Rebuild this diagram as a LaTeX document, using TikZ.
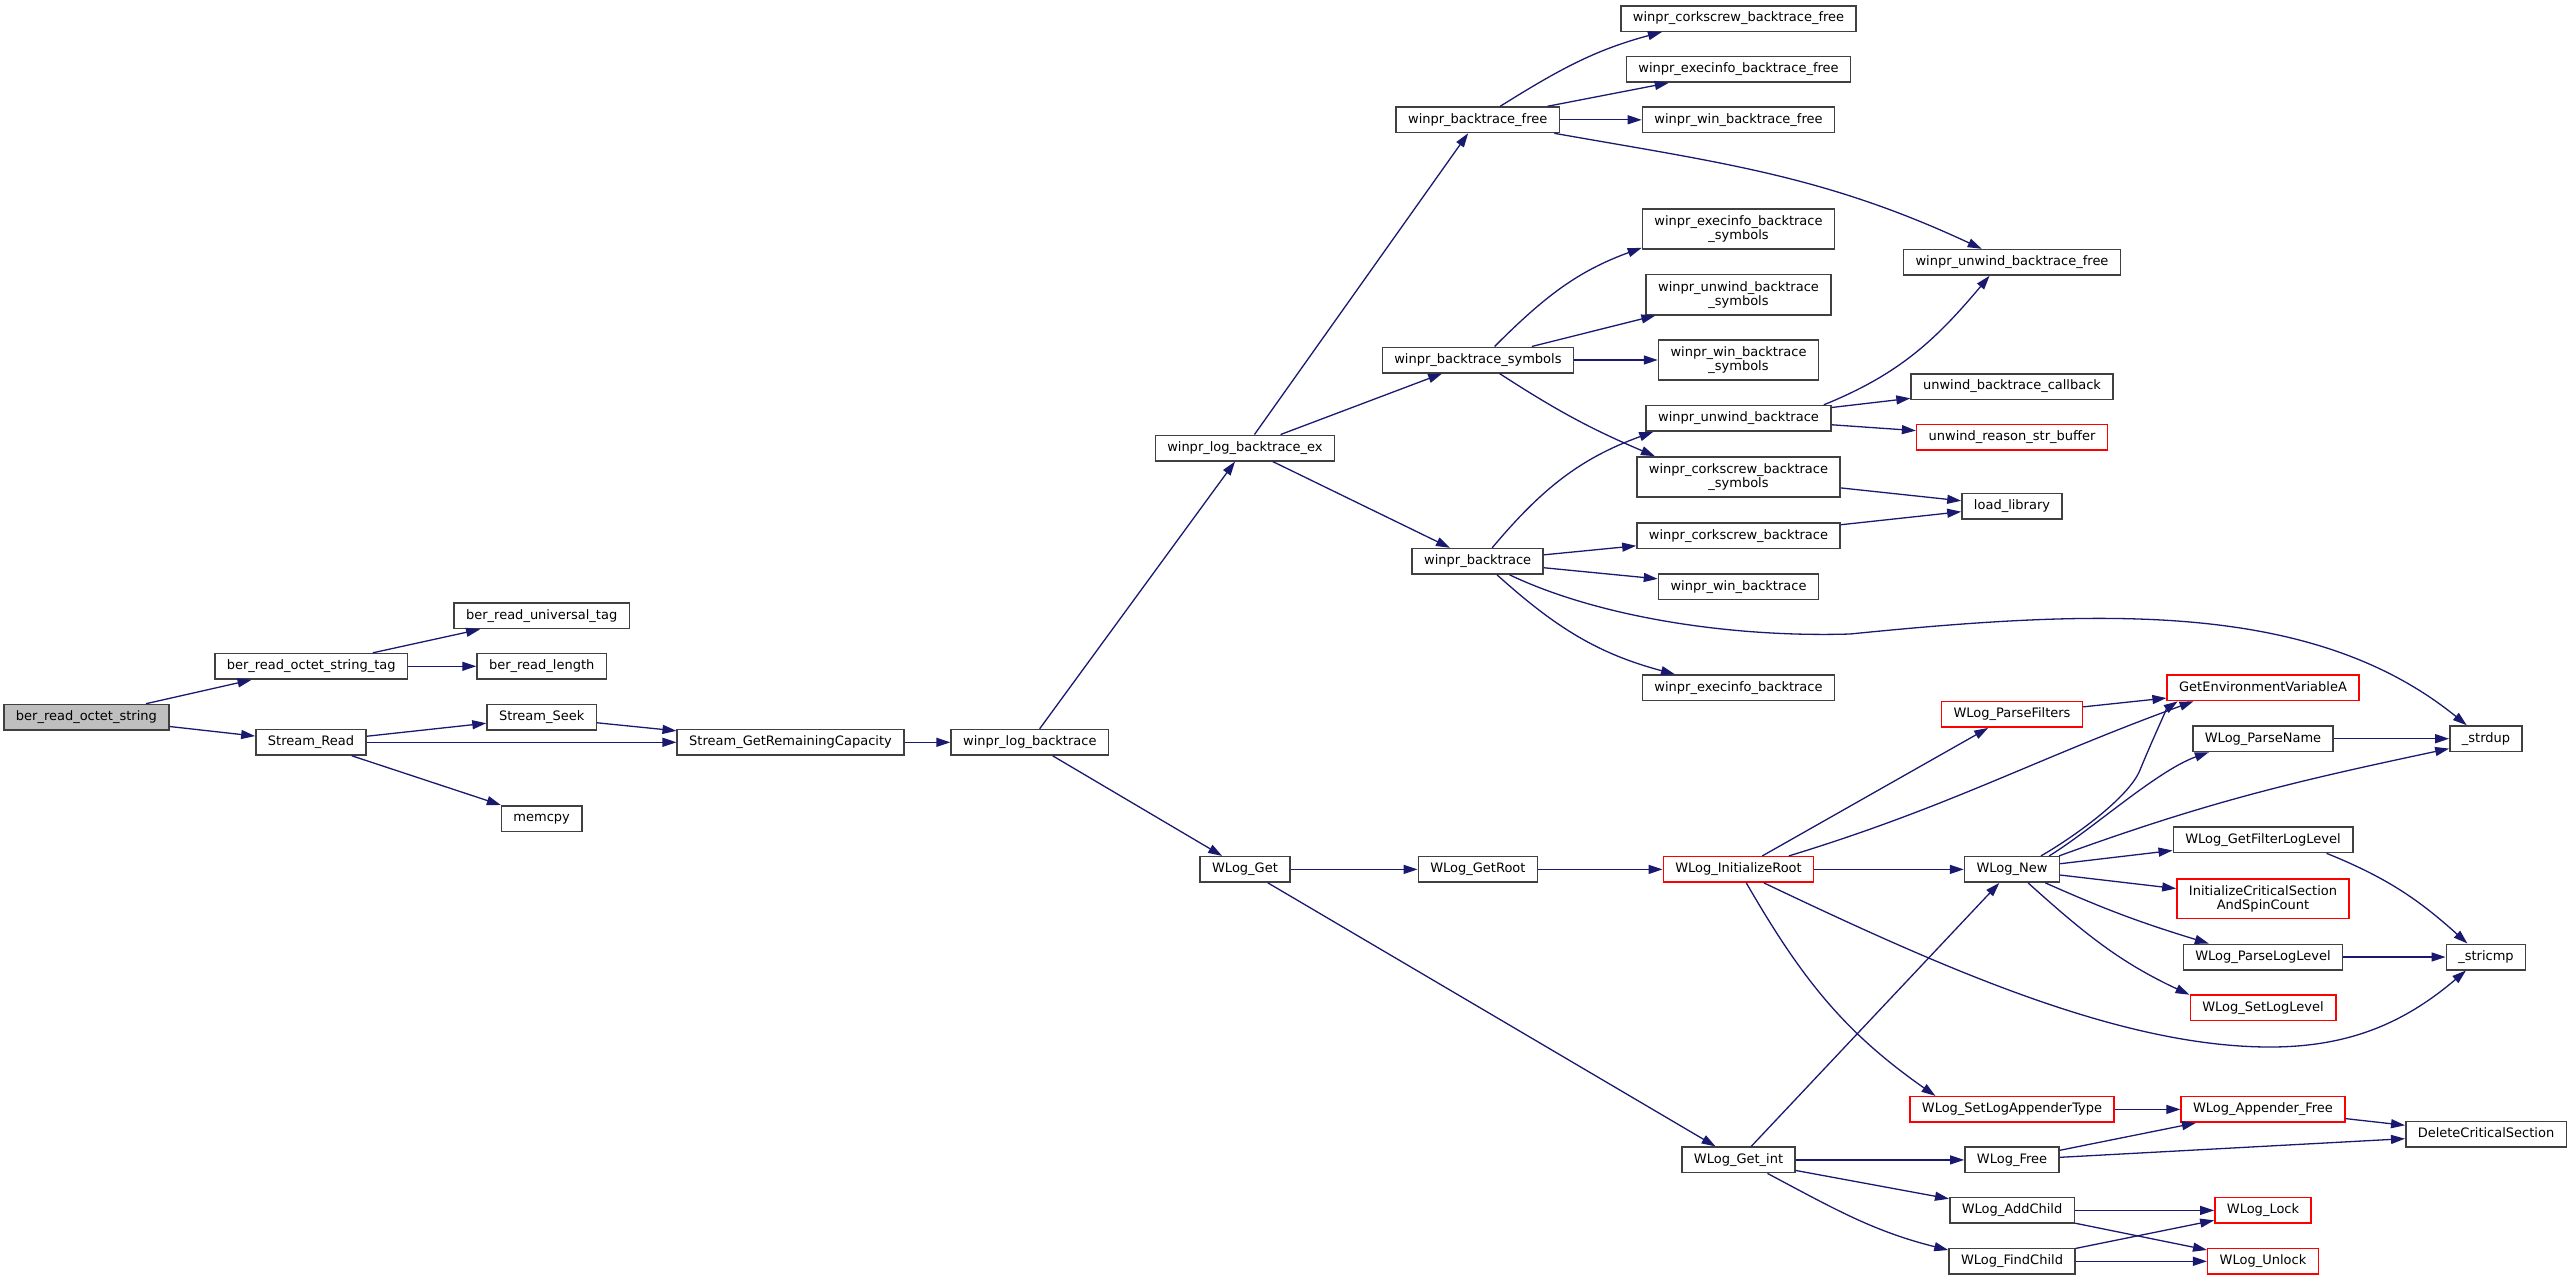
\documentclass[tikz,border=0pt]{standalone}
\usepackage{fontspec}
\usepackage{tikz}
\usetikzlibrary{arrows.meta}
\newfontfamily\graphfont{DejaVu Sans}
\definecolor{callblue}{RGB}{25,25,112}
\definecolor{framegrey}{RGB}{64,64,64}
\definecolor{rootgrey}{RGB}{191,191,191}
\tikzset{%
  fnode/.style  = {shape=rectangle, draw=framegrey, line width=0.75pt,%
                   fill=white, align=center, inner xsep=6pt,%
                   font=\graphfont\fontsize{6.5pt}{7pt}\selectfont},%
  fn/.style     = {fnode, inner ysep=0pt, minimum height=12.75pt,%
                   text height=4.95pt, text depth=1.55pt},%
  fntwo/.style  = {fnode, inner ysep=3.3pt},%
  rootfn/.style = {fn, fill=rootgrey},%
  redfn/.style  = {fn, draw=red},%
  redtwo/.style = {fntwo, draw=red},%
  call/.style   = {draw=callblue, line width=0.65pt,%
                   -{Triangle[length=7pt,width=4.5pt]}}%
}
\begin{document}
\begin{tikzpicture}[x=0.5pt, y=-0.5pt]
  \useasboundingbox (0,0) rectangle (2571,1280);
  % ber / Stream side
  \node[rootfn] (bos)    at (86.4,717.2)  {ber\_read\_octet\_string};
  \node[fn]     (bostag) at (311.2,666.3) {ber\_read\_octet\_string\_tag};
  \node[fn]     (sread)  at (311,742.3)   {Stream\_Read};
  \node[fn]     (univ)   at (541.7,615.8) {ber\_read\_universal\_tag};
  \node[fn]     (blen)   at (541.7,666.3) {ber\_read\_length};
  \node[fn]     (sseek)  at (541.7,717.2) {Stream\_Seek};
  \node[fn]     (memcpy) at (541.7,818.5) {memcpy};
  \node[fn]     (grc)    at (790.5,742.3) {Stream\_GetRemainingCapacity};
  \node[fn]     (wlbt)   at (1029.8,742.3) {winpr\_log\_backtrace};
  \node[fn]     (wlbtex) at (1244.9,448)  {winpr\_log\_backtrace\_ex};
  \node[fn]     (wget)   at (1245,869.4)  {WLog\_Get};
  % backtrace helpers
  \node[fn]     (bfree)    at (1477.7,119.8) {winpr\_backtrace\_free};
  \node[fn]     (bsym)     at (1477.9,360)   {winpr\_backtrace\_symbols};
  \node[fn]     (wbt)      at (1477.7,561.3) {winpr\_backtrace};
  \node[fn]     (groot)    at (1477.9,869.4) {WLog\_GetRoot};
  \node[fn]     (corkfree) at (1738.5,18.5)  {winpr\_corkscrew\_backtrace\_free};
  \node[fn]     (exfree)   at (1738.5,69.3)  {winpr\_execinfo\_backtrace\_free};
  \node[fn]     (winfree)  at (1738.5,119.8) {winpr\_win\_backtrace\_free};
  \node[fntwo]  (exsym)    at (1738.5,229)   {winpr\_execinfo\_backtrace\\\_symbols};
  \node[fntwo]  (unwsym)   at (1738.5,294.7) {winpr\_unwind\_backtrace\\\_symbols};
  \node[fntwo]  (winsym)   at (1738.5,360)   {winpr\_win\_backtrace\\\_symbols};
  \node[fn]     (unwbt)    at (1738.5,418.3) {winpr\_unwind\_backtrace};
  \node[fntwo]  (corksym)  at (1738.5,477)   {winpr\_corkscrew\_backtrace\\\_symbols};
  \node[fn]     (corkbt)   at (1738.5,535.8) {winpr\_corkscrew\_backtrace};
  \node[fn]     (winbt)    at (1738.5,586.7) {winpr\_win\_backtrace};
  \node[fn]     (exbt)     at (1738.5,687.8) {winpr\_execinfo\_backtrace};
  \node[redfn]  (iroot)    at (1738.5,869.4) {WLog\_InitializeRoot};
  \node[fn]     (getint)   at (1738.5,1159.9) {WLog\_Get\_int};
  \node[fn]     (unwfree)  at (2012,262.3)  {winpr\_unwind\_backtrace\_free};
  \node[fn]     (cb)       at (2012,386.5)  {unwind\_backtrace\_callback};
  \node[redfn]  (reason)   at (2012,437.3)  {unwind\_reason\_str\_buffer};
  \node[fn]     (loadlib)  at (2012,506.2)  {load\_library};
  % WLog side
  \node[redfn]  (pfilters)  at (2012,714.4)  {WLog\_ParseFilters};
  \node[fn]     (wnew)      at (2012,869.4)  {WLog\_New};
  \node[redfn]  (setapp)    at (2012,1109.4) {WLog\_SetLogAppenderType};
  \node[fn]     (wfree)     at (2012,1159.9) {WLog\_Free};
  \node[fn]     (addchild)  at (2012,1210.4) {WLog\_AddChild};
  \node[fn]     (findchild) at (2012,1261.3) {WLog\_FindChild};
  \node[redfn]  (getenv)    at (2263,687.8)  {GetEnvironmentVariableA};
  \node[fn]     (pname)     at (2263,738.7)  {WLog\_ParseName};
  \node[fn]     (gfll)      at (2263,839.8)  {WLog\_GetFilterLogLevel};
  \node[redtwo] (initcs)    at (2263,898.7)  {InitializeCriticalSection\\AndSpinCount};
  \node[fn]     (pll)       at (2263,957)    {WLog\_ParseLogLevel};
  \node[redfn]  (setll)     at (2263,1007.7) {WLog\_SetLogLevel};
  \node[redfn]  (appfree)   at (2263,1109.4) {WLog\_Appender\_Free};
  \node[redfn]  (lock)      at (2263,1210.4) {WLog\_Lock};
  \node[redfn]  (unlock)    at (2263,1261.3) {WLog\_Unlock};
  \node[fn]     (strdup)    at (2486,738.7)  {\_strdup};
  \node[fn]     (stricmp)   at (2486,957)    {\_stricmp};
  \node[fn]     (delcs)     at (2486,1134.3) {DeleteCriticalSection};

  \draw[call] (bos) -- (bostag);
  \draw[call] (bos) -- (sread);
  \draw[call] (bostag) -- (univ);
  \draw[call] (bostag) -- (blen);
  \draw[call] (sread) -- (sseek);
  \draw[call] (sread) -- (grc);
  \draw[call] (sread) -- (memcpy);
  \draw[call] (sseek) -- (grc);
  \draw[call] (grc) -- (wlbt);
  \draw[call] (wlbt) -- (wlbtex);
  \draw[call] (wlbt) -- (wget);
  \draw[call] (wlbtex) -- (bfree);
  \draw[call] (wlbtex) -- (bsym);
  \draw[call] (wlbtex) -- (wbt);
  \draw[call] (bfree.31) to[out=32,in=195] (corkfree.190);
  \draw[call] (bfree) -- (exfree);
  \draw[call] (bfree) -- (winfree);
  \draw[call] (bfree.-10) to[out=-10,in=155] (unwfree.156);
  \draw[call] (bsym.39) to[out=45,in=200] (exsym.191);
  \draw[call] (bsym) -- (unwsym);
  \draw[call] (bsym) -- (winsym);
  \draw[call] (bsym.-32) to[out=-33,in=157] (corksym.166);
  \draw[call] (wbt.43) to[out=50,in=200] (unwbt.189);
  \draw[call] (wbt) -- (corkbt);
  \draw[call] (wbt) -- (winbt);
  \draw[call] (wbt.-23) .. controls (1598,617) and (1730,637.6) .. (1850,634)
                        .. controls (2100,609) and (2312.6,600.2) .. (strdup.145);
  \draw[call] (wbt.-35) to[out=-42,in=165] (exbt.168);
  \draw[call] (unwbt.9) to[out=22,in=230] (unwfree.211);
  \draw[call] (unwbt) -- (cb);
  \draw[call] (unwbt) -- (reason);
  \draw[call] (corksym) -- (loadlib);
  \draw[call] (corkbt) -- (loadlib);
  \draw[call] (wget) -- (groot);
  \draw[call] (wget) -- (getint);
  \draw[call] (groot) -- (iroot);
  \draw[call] (iroot) -- (pfilters);
  \draw[call] (iroot.15) to[out=17,in=200] (getenv.191);
  \draw[call] (iroot) -- (wnew);
  \draw[call] (iroot.-28) .. controls (1943.6,968.4) and (2120,1047) .. (2270,1047)
                          .. controls (2350,1047) and (2405.3,1022.2) .. (stricmp.214);
  \draw[call] (iroot.-60) to[out=-60,in=145] (setapp.170);
  \draw[call] (pfilters) -- (getenv);
  \draw[call] (wnew.25) .. controls (2073.3,837.3) and (2128.75,797.8) .. (2140,770)
                        .. controls (2151.3,742.2) and (2167.1,708.4) .. (getenv.189);
  \draw[call] (wnew.20) .. controls (2090.4,830.9) and (2156.6,770.8) .. (pname.194);
  \draw[call] (wnew.16) to[out=20,in=192] (strdup.195);
  \draw[call] (wnew) -- (gfll);
  \draw[call] (wnew) -- (initcs);
  \draw[call] (wnew.-22) to[out=-24,in=163] (pll.166);
  \draw[call] (wnew.-40) to[out=-42,in=155] (setll.170);
  \draw[call] (pname) -- (strdup);
  \draw[call] (gfll.-12) to[out=-22,in=138] (stricmp.144);
  \draw[call] (pll) -- (stricmp);
  \draw[call] (getint) -- (wnew);
  \draw[call] (getint) -- (wfree);
  \draw[call] (getint) -- (addchild);
  \draw[call] (getint.-25) to[out=-28,in=166] (findchild.170);
  \draw[call] (setapp) -- (appfree);
  \draw[call] (appfree) -- (delcs);
  \draw[call] (wfree) -- (appfree);
  \draw[call] (wfree) -- (delcs);
  \draw[call] (addchild) -- (lock);
  \draw[call] (addchild) -- (unlock);
  \draw[call] (findchild) -- (lock);
  \draw[call] (findchild) -- (unlock);
\end{tikzpicture}
\end{document}
